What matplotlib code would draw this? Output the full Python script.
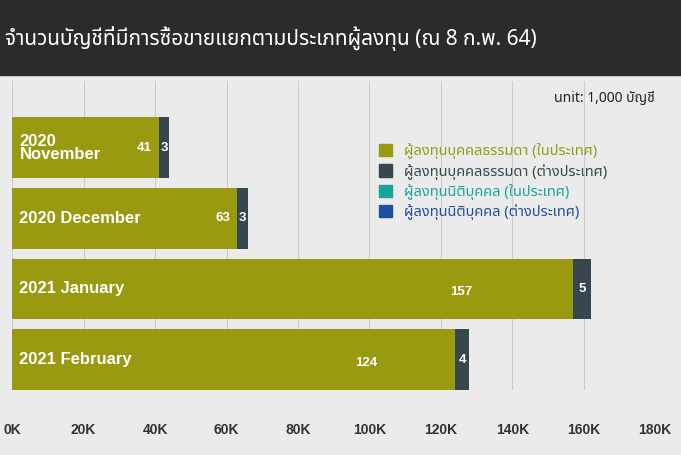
import matplotlib.pyplot as plt
from matplotlib.patches import Patch

plt.rcParams['font.family'] = ['Noto Sans Thai', 'Tahoma', 'DejaVu Sans']
bold_font = ['Liberation Sans', 'DejaVu Sans']

months = ["2020\nNovember", "2020 December", "2021 January", "2021 February"]
thai_local = [41, 63, 157, 124]
thai_foreign = [3, 3, 5, 4]
legend_labels = ["ผู้ลงทุนบุคคลธรรมดา (ในประเทศ)", "ผู้ลงทุนบุคคลธรรมดา (ต่างประเทศ)",
                 "ผู้ลงทุนนิติบุคคล (ในประเทศ)", "ผู้ลงทุนนิติบุคคล (ต่างประเทศ)"]
colors = ["#999a10", "#37474f", "#1aa39a", "#1f4f9c"]
xticks = [0, 20, 40, 60, 80, 100, 120, 140, 160, 180]

fig = plt.figure(figsize=(6.81, 4.55), dpi=100)
fig.patch.set_facecolor("#ebebeb")
fig.add_artist(plt.Rectangle((0, 0.835), 1, 0.165, transform=fig.transFigure, color="#2b2b2b"))
fig.text(0.008, 0.915, "จำนวนบัญชีที่มีการซื้อขายแยกตามประเภทผู้ลงทุน (ณ 8 ก.พ. 64)",
         color="white", fontsize=15, va="center")

ax = plt.axes([0.018, 0.143, 0.944, 0.68])
ax.set_facecolor("#ebebeb")
y = list(range(len(months)))
ax.barh(y, thai_local, height=0.86, color=colors[0])
ax.barh(y, thai_foreign, left=thai_local, height=0.86, color=colors[1])
for i in y:
    ax.text(2, i, months[i], color="white", fontsize=12, fontweight="bold", va="center", ha="left",
            linespacing=0.85, family=bold_font)
    ax.text(thai_local[i] - 4 if i < 2 else thai_local[i] * 0.8, i + (0 if i < 2 else 0.05),
            str(thai_local[i]), color="white", fontsize=9.5, fontweight="bold", va="center",
            ha="center", family=bold_font)
    ax.text(thai_local[i] + thai_foreign[i] / 2, i, str(thai_foreign[i]), color="white",
            fontsize=9.5, fontweight="bold", va="center", ha="center", family=bold_font)
ax.set_ylim(3.43, -0.95)
ax.set_xlim(0, 180)
ax.set_xticks(xticks)
ax.set_xticklabels([f"{t}K" for t in xticks], fontsize=10, fontweight="bold", color="#333333",
                   family=bold_font)
ax.set_yticks([])
for s in ax.spines.values():
    s.set_visible(False)
ax.grid(axis="x", color="#cccccc", lw=0.8)
ax.tick_params(axis="x", length=0, pad=24)
ax.set_axisbelow(True)
ax.text(1.0, 0.93, "unit: 1,000 บัญชี", transform=ax.transAxes, ha="right", fontsize=10, color="#222222")
handles = [Patch(color=c) for c in colors]
leg = ax.legend(handles, legend_labels, loc="upper left", bbox_to_anchor=(0.55, 0.84), frameon=False,
                fontsize=10.5, handlelength=0.9, handleheight=0.9, labelspacing=0.3)
for t, c in zip(leg.get_texts(), colors):
    t.set_color(c)

fig.savefig("out.png", dpi=100, facecolor=fig.get_facecolor())
